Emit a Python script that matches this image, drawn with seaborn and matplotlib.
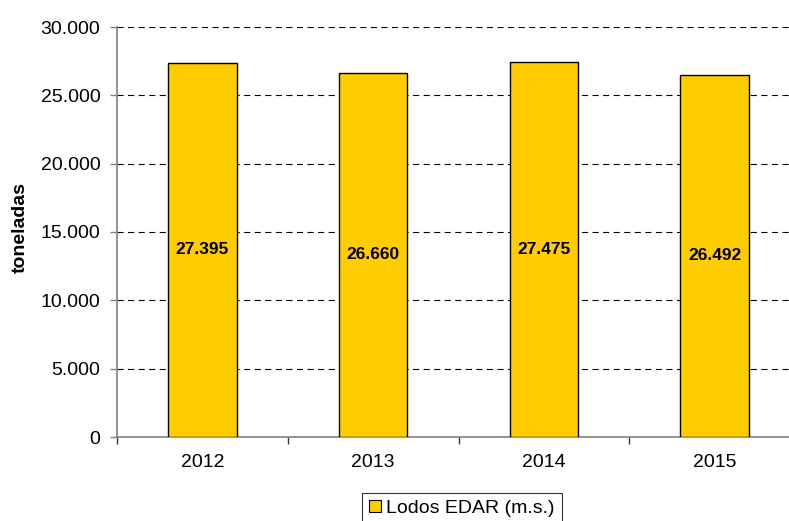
import pandas as pd
import seaborn as sns
from matplotlib import pyplot as plt
import matplotlib.ticker as mtick

years = ["2012", "2013", "2014", "2015"]
tonnes = [27395, 26660, 27475, 26492]
series_name = "Lodos EDAR (m.s.)"

df = pd.DataFrame({"year": years, "tonnes": tonnes})

sns.set_theme(style="white")
plt.rcParams["font.family"] = ["Liberation Sans", "DejaVu Sans"]
plt.rcParams["text.color"] = "black"

fig = plt.figure(figsize=(7.89, 5.21), dpi=100)
ax = fig.add_axes([117 / 789, 84 / 521, 683 / 789, 410 / 521])

sns.barplot(data=df, x="year", y="tonnes", color="#FFCC00", width=0.4,
            edgecolor="black", linewidth=1, saturation=1, label=series_name,
            ax=ax, zorder=3)

ax.set_ylim(0, 30000)
ax.set_xlim(-0.5, 3.5)
ax.yaxis.set_major_locator(mtick.MultipleLocator(5000))
ax.yaxis.set_major_formatter(
    mtick.FuncFormatter(lambda v, p: f"{int(v):,}".replace(",", ".")))

# dashed grid lines (not at zero)
for v in range(5000, 30001, 5000):
    ax.axhline(v, color="black", lw=0.8, linestyle=(0, (5.5, 4)), zorder=1)

for s in ["top", "right"]:
    ax.spines[s].set_visible(False)
for s in ["left", "bottom"]:
    ax.spines[s].set_color("#808080")
    ax.spines[s].set_linewidth(1.2)

ax.tick_params(axis="y", which="major", length=5, width=1, color="#808080",
               direction="out", left=True, labelsize=14, pad=7, labelcolor="black")
ax.xaxis.set_minor_locator(mtick.FixedLocator([-0.5, 0.5, 1.5, 2.5, 3.5]))
ax.tick_params(axis="x", which="minor", length=5, width=1, color="#333333",
               direction="out", bottom=True)
ax.tick_params(axis="x", which="major", length=0, labelsize=14, pad=12,
               labelcolor="black")

ax.set_xlabel("")
ax.set_ylabel("toneladas", fontsize=14, fontweight="bold", color="black")
ax.yaxis.set_label_coords(-0.129, 0.51)

for i, v in enumerate(tonnes):
    ax.text(i, v / 2, f"{v:,}".replace(",", "."), ha="center", va="center",
            fontsize=12.5, fontweight="bold", color="black", zorder=4)

leg = ax.legend(loc="upper center", bbox_to_anchor=(462 / 789, 28 / 521),
                bbox_transform=fig.transFigure, fontsize=14, frameon=True,
                fancybox=False, edgecolor="black", handlelength=0.6,
                handleheight=0.6, handletextpad=0.3, borderpad=0.35,
                borderaxespad=0)
leg.get_frame().set_linewidth(0.8)
for h in leg.legend_handles:
    h.set_edgecolor("black")
    h.set_linewidth(0.8)

plt.savefig("out.png", dpi=100)
